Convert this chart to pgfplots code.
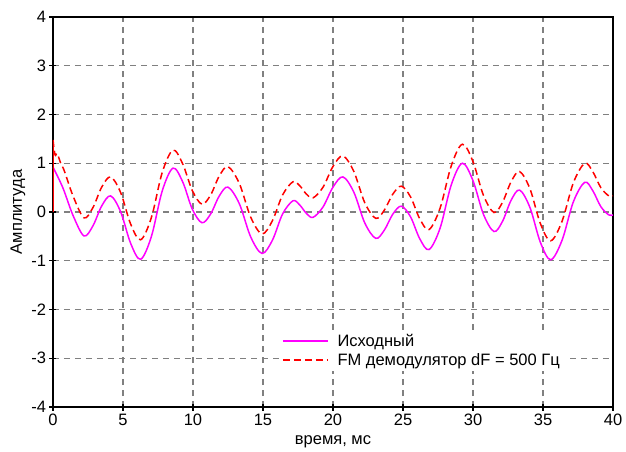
\documentclass[border=0pt]{standalone}
\usepackage{fontspec}
\setmainfont{Liberation Sans}
\usepackage{pgfplots}
\pgfplotsset{compat=1.18}
\definecolor{gridgray}{RGB}{128,128,128}
\definecolor{magline}{RGB}{255,0,255}
\begin{document}
\begin{tikzpicture}
\useasboundingbox (-53pt,-45pt) rectangle (573pt,407pt);
\begin{axis}[
  at={(0,0)}, anchor=south west,
  scale only axis, width=560pt, height=390pt,
  xmin=0, xmax=40, ymin=-4, ymax=4,
  xtick={0,5,...,40}, ytick={-4,-3,...,4},
  grid=major,
  major grid style={gridgray, line width=1.2pt, dash pattern=on 6pt off 5pt},
  axis line style={black, line width=1.2pt},
  tick style={black, line width=1.2pt}, major tick length=7pt, tick align=center,
  xtick pos=left, ytick pos=left,
  /pgf/number format/assume math mode=true,
  ticklabel style={font=\fontsize{16.5}{19}\selectfont},
  label style={font=\fontsize{16.5}{19}\selectfont},
  xlabel={время, мс}, ylabel={Амплитуда},
  xlabel style={at={(axis description cs:0.5,-0.09)}, anchor=center},
  ylabel style={at={(axis description cs:-0.0625,0.5)}, anchor=center},
  legend style={at={(0.405,0.198)}, anchor=north west, draw=none, fill=white,
    font=\fontsize{16.5}{19}\selectfont, row sep=1.5pt, inner sep=2pt,
    nodes={inner xsep=5pt}},
  legend cell align=left,
  legend image code/.code={\draw[#1] (0pt,0pt) -- (45pt,0pt);},
]
\addplot[color=magline, line width=1.5pt, smooth, tension=0.55] coordinates {
(0,0.92)(0.7,0.5)(1.43,-0.07)
(2.21,-0.49)(2.85,-0.285)(3.48,0.125)
(4.12,0.33)(4.83,0.005)(5.55,-0.645)
(6.26,-0.97)(7.03,-0.50)(7.80,0.43)
(8.57,0.90)(9.26,0.62)(9.95,0.06)
(10.64,-0.22)(11.26,-0.04)(11.88,0.33)
(12.5,0.51)(13.31,0.17)(14.12,-0.51)
(14.93,-0.85)(15.67,-0.58)(16.40,-0.04)
(17.14,0.23)(17.62,0.145)(18.09,-0.025)
(18.57,-0.11)(19.28,0.10)(20.0,0.51)
(20.71,0.72)(21.49,0.405)(22.27,-0.225)
(23.05,-0.54)(23.66,-0.375)(24.27,-0.045)
(24.88,0.12)(25.54,-0.10)(26.20,-0.55)
(26.86,-0.77)(27.65,-0.33)(28.45,0.56)
(29.24,1.0)(29.99,0.65)(30.75,-0.05)
(31.5,-0.40)(32.11,-0.19)(32.72,0.24)
(33.33,0.45)(34.07,0.09)(34.81,-0.62)
(35.55,-0.98)(36.36,-0.58)(37.17,0.21)
(37.98,0.61)(38.55,0.44)(39.13,0.11)
(39.7,-0.06)(40,-0.06)
};
\addlegendentry{\hspace{4pt}Исходный}
\addplot[color=red, line width=1.5pt, dash pattern=on 7pt off 4pt, smooth, tension=0.55] coordinates {
(0,1.48)(0.15,1.17)(0.3,1.2)(0.55,1.0)(0.8,0.85)(1.43,0.33)
(2.21,-0.12)(2.85,0.09)(3.48,0.51)
(4.12,0.72)(4.83,0.40)(5.55,-0.25)
(6.26,-0.57)(7.03,-0.11)(7.80,0.81)
(8.57,1.27)(9.26,0.99)(9.95,0.44)
(10.64,0.16)(11.26,0.35)(11.88,0.74)
(12.5,0.93)(13.31,0.585)(14.12,-0.105)
(14.93,-0.45)(15.67,-0.18)(16.40,0.35)
(17.14,0.62)(17.62,0.54)(18.09,0.37)
(18.57,0.29)(19.28,0.505)(20.0,0.935)
(20.71,1.15)(21.49,0.83)(22.27,0.19)
(23.05,-0.13)(23.66,0.035)(24.27,0.365)
(24.88,0.53)(25.54,0.31)(26.20,-0.14)
(26.86,-0.36)(27.65,0.08)(28.45,0.95)
(29.24,1.39)(29.99,1.04)(30.75,0.34)
(31.5,-0.01)(32.11,0.2)(32.72,0.62)
(33.33,0.83)(34.07,0.475)(34.81,-0.235)
(35.55,-0.59)(36.36,-0.19)(37.17,0.60)
(37.98,1.0)(38.55,0.83)(39.13,0.50)
(39.7,0.33)(40,0.33)
};
\addlegendentry{\hspace{4pt}FM демодулятор dF = 500 Гц}
\addplot[color=red, line width=1.5pt, forget plot] coordinates {(0,0)(0,1.48)};
\end{axis}
\end{tikzpicture}
\end{document}
